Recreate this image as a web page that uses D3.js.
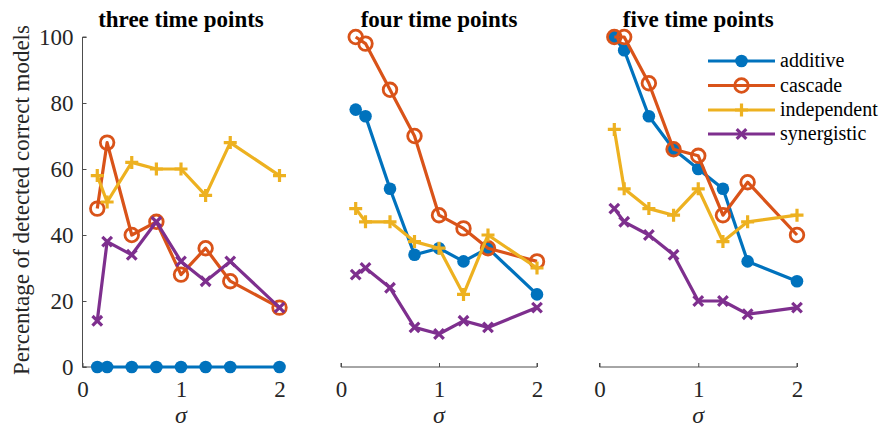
<!DOCTYPE html>
<html><head><meta charset="utf-8">
<script src="https://cdn.jsdelivr.net/npm/d3@7"></script>
<style>body{margin:0;background:#fff}svg{display:block}</style>
</head><body><svg id="c" width="880" height="430"></svg>
<script>
const sigma = [0.15, 0.25, 0.5, 0.75, 1, 1.25, 1.5, 2];
const seriesNames = ["additive", "cascade", "independent", "synergistic"];
const panelTitles = ["three time points", "four time points", "five time points"];
// panel 1: three time points
const p1Additive    = [0, 0, 0, 0, 0, 0, 0, 0];
const p1Cascade     = [48, 68, 40, 44, 28, 36, 26, 18];
const p1Independent = [58, 50, 62, 60, 60, 52, 68, 58];
const p1Synergistic = [14, 38, 34, 44, 32, 26, 32, 18];
// panel 2: four time points
const p2Additive    = [78, 76, 54, 34, 36, 32, 36, 22];
const p2Cascade     = [100, 98, 84, 70, 46, 42, 36, 32];
const p2Independent = [48, 44, 44, 38, 36, 22, 40, 30];
const p2Synergistic = [28, 30, 24, 12, 10, 14, 12, 18];
// panel 3: five time points
const p3Additive    = [100, 96, 76, 66, 60, 54, 32, 26];
const p3Cascade     = [100, 100, 86, 66, 64, 46, 56, 40];
const p3Independent = [72, 54, 48, 46, 54, 38, 44, 46];
const p3Synergistic = [48, 44, 40, 34, 20, 20, 16, 18];
const xTicks = [0, 1, 2];
const yTicks = [0, 20, 40, 60, 80, 100];

const FONT = "Liberation Serif";
const colors = ["#0072BD", "#D95319", "#EDB120", "#7E2F8E"];
const panels = [
  [p1Additive, p1Cascade, p1Independent, p1Synergistic],
  [p2Additive, p2Cascade, p2Independent, p2Synergistic],
  [p3Additive, p3Cascade, p3Independent, p3Synergistic]
];
const panelX = [[82.5, 279.5], [341, 537], [599.5, 797]];
const svg = d3.select("#c");
const y = d3.scaleLinear().domain([0, 100]).range([367, 37]);
const axisColor = "#4d4d4d";

function drawMarker(g, type, cx, cy, color) {
  if (type === 0) {
    g.append("circle").attr("cx", cx).attr("cy", cy).attr("r", 6.3).attr("fill", color);
  } else if (type === 1) {
    g.append("circle").attr("cx", cx).attr("cy", cy).attr("r", 6.8).attr("fill", "none")
      .attr("stroke", color).attr("stroke-width", 2.8);
  } else if (type === 2) {
    const s = 6.5;
    g.append("path").attr("d", `M${cx - s},${cy}H${cx + s}M${cx},${cy - s}V${cy + s}`)
      .attr("stroke", color).attr("stroke-width", 3.2).attr("fill", "none");
  } else {
    const s = 4.8;
    g.append("path").attr("d", `M${cx - s},${cy - s}L${cx + s},${cy + s}M${cx - s},${cy + s}L${cx + s},${cy - s}`)
      .attr("stroke", color).attr("stroke-width", 3.2).attr("fill", "none");
  }
}

panels.forEach((data, pi) => {
  const x = d3.scaleLinear().domain([0, 2]).range(panelX[pi]);
  const g = svg.append("g");
  const xa = g.append("g").attr("transform", `translate(0,${y(0)})`)
    .call(d3.axisBottom(x).tickValues(xTicks).tickSize(-4).tickPadding(11).tickFormat(d3.format("d")));
  xa.select(".domain").attr("stroke", axisColor).attr("d", `M${x(0)},-4V0H${x(2)}V-4`);
  xa.selectAll(".tick line").attr("stroke", axisColor);
  xa.selectAll("text").attr("font-family", FONT).attr("font-size", 23).attr("fill", "#262626")
    .attr("y", 30).attr("dy", null);
  if (pi === 0) {
    const ya = g.append("g").attr("transform", `translate(${x(0)},0)`)
      .call(d3.axisLeft(y).tickValues(yTicks).tickSize(-4).tickPadding(9));
    ya.select(".domain").attr("stroke", axisColor).attr("d", `M4,${y(100)}H0V${y(0)}H4`);
    ya.selectAll(".tick line").attr("stroke", axisColor);
    ya.selectAll("text").attr("font-family", FONT).attr("font-size", 23).attr("fill", "#262626");
    svg.append("text").attr("transform", `translate(29,${y(50) - 2}) rotate(-90)`)
      .attr("text-anchor", "middle").attr("font-family", FONT).attr("font-size", 23).attr("fill", "#262626")
      .text("Percentage of detected correct models");
  }
  g.append("text").attr("x", (panelX[pi][0] + panelX[pi][1]) / 2).attr("y", 423)
    .attr("text-anchor", "middle").attr("font-family", FONT).attr("font-size", 24).attr("font-style", "italic").attr("fill", "#262626").text("σ");
  g.append("text").attr("x", (panelX[pi][0] + panelX[pi][1]) / 2).attr("y", 27)
    .attr("text-anchor", "middle").attr("font-family", FONT).attr("font-size", 23).attr("font-weight", "bold").attr("fill", "#000").text(panelTitles[pi]);
  data.forEach((vals, si) => {
    const line = d3.line().x((d, i) => x(sigma[i])).y(d => y(d));
    g.append("path").datum(vals).attr("d", line).attr("fill", "none")
      .attr("stroke", colors[si]).attr("stroke-width", 3.2).attr("stroke-linejoin", "round");
    vals.forEach((v, i) => drawMarker(g, si, x(sigma[i]), y(v), colors[si]));
  });
});

const lg = svg.append("g");
const legY = [61, 85.5, 110, 134];
seriesNames.forEach((name, si) => {
  lg.append("line").attr("x1", 708).attr("x2", 775).attr("y1", legY[si]).attr("y2", legY[si])
    .attr("stroke", colors[si]).attr("stroke-width", 3.2);
  drawMarker(lg, si, 741.5, legY[si], colors[si]);
  lg.append("text").attr("x", 780).attr("y", legY[si]).attr("dy", "0.32em")
    .attr("font-family", FONT).attr("font-size", 20).attr("fill", "#000").text(name);
});
</script></body></html>
